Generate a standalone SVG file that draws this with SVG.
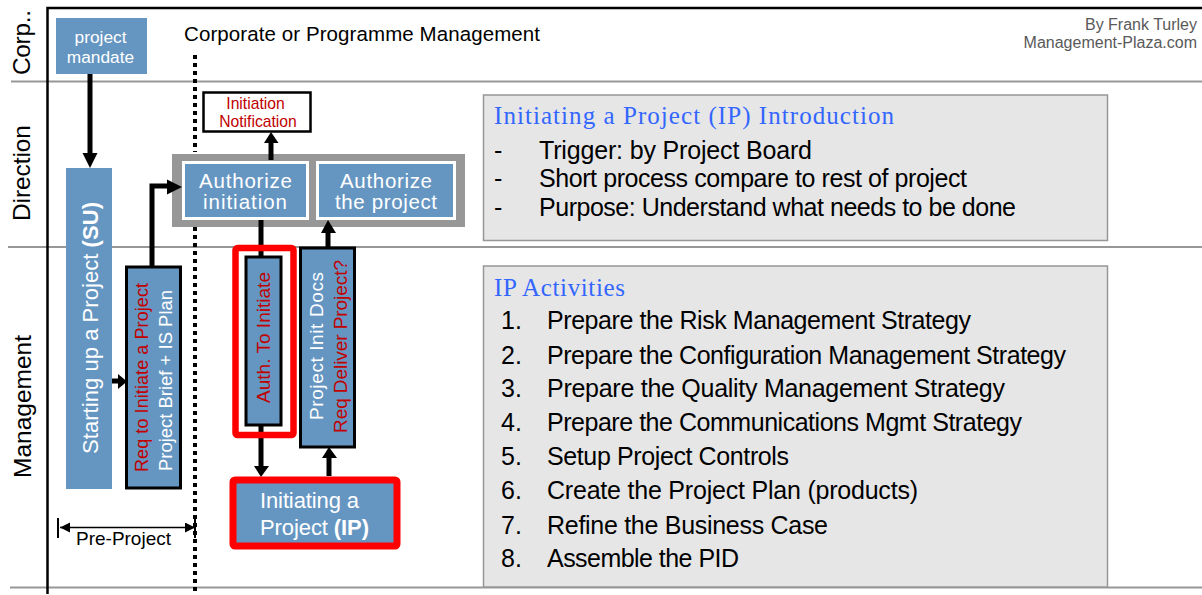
<svg xmlns="http://www.w3.org/2000/svg" width="1202" height="595" viewBox="0 0 1202 595">
<style>
text{font-family:"Liberation Sans",Arial,sans-serif}
.sw{fill:#000;font-size:24.500px}
.box{fill:#6596c2}
.w{fill:#fff}
.bl{stroke:#000;stroke-width:3}
.conn{fill:none;stroke:#000;stroke-width:5}
.pan{fill:#e6e6e6;stroke:#979797;stroke-width:1.500}
.h{fill:#3366ff;font-family:"Liberation Serif",serif;font-size:25px}
.t{font-size:25px;fill:#000}
.rd{fill:#c00000}
.ah{fill:#000}
</style>
<defs>
<marker id="dbl" markerUnits="userSpaceOnUse" markerWidth="12" markerHeight="12" refX="10" refY="5" orient="auto-start-reverse"><path d="M0 0L10 5L0 10z" fill="#000"/></marker>
</defs>
<rect width="1202" height="595" fill="#fff"/>
<g id="lanes">
<path d="M11 81.500H1202M8 247H1202M10 587.500H1202" stroke="#979797" stroke-width="2" fill="none"/>
<path d="M47.500 594V8H1202" stroke="#000" stroke-width="2.500" fill="none"/>
<path d="M195 55V152M195 227V594" stroke="#000" stroke-width="4" stroke-dasharray="4 4" fill="none"/>
<text class="sw" transform="translate(30 75) rotate(-90)" textLength="65">Corp..</text>
<text class="sw" transform="translate(30 221) rotate(-90)" textLength="96">Direction</text>
<text class="sw" transform="translate(31 478) rotate(-90)" textLength="143">Management</text>
<text x="184" y="41" font-size="20.500" textLength="356">Corporate or Programme Management</text>
<text x="1197" y="30" text-anchor="end" font-size="16" fill="#595959">By Frank Turley</text>
<text x="1197" y="48" text-anchor="end" font-size="16" fill="#595959">Management-Plaza.com</text>
</g>
<g id="node-authorize-group"><rect x="172" y="154" width="293" height="73" fill="#979797"/></g>
<g id="connectors">
<path class="conn" d="M90 74V155"/><path class="ah" d="M82.500 153H97.500L90 168z"/>
<path class="conn" d="M152 266V186H170"/><path class="ah" d="M167 179.500L182 187L167 194.500z"/>
<path class="conn" d="M112 381H119"/><path class="ah" d="M118 374L127 381.500L118 389z"/>
<path class="conn" d="M271 160V143"/><path class="ah" d="M264 143L271 132L278.500 143z"/>
<path class="conn" d="M261 220V258M261 425V466"/><path class="ah" d="M254 466H269L261 477z"/>
<path class="conn" d="M328 248V233"/><path class="ah" d="M321 233L328 220L336 233z"/>
<path class="conn" d="M329 476V458"/><path class="ah" d="M322 458L329 447L337 458z"/>
</g>
<g id="node-mandate"><rect class="box" x="56" y="18" width="91" height="56"/><text class="w" text-anchor="middle" x="100.500" y="43" font-size="17.300">project</text><text class="w" text-anchor="middle" x="100.500" y="63" font-size="17.300">mandate</text></g>
<g id="node-notification"><rect x="203.500" y="92.500" width="107" height="39" fill="#fff" stroke="#000" stroke-width="2.500"/><text class="rd" x="255.500" y="109" text-anchor="middle" font-size="15.700">Initiation</text><text class="rd" x="258" y="127" text-anchor="middle" font-size="15.700">Notification</text></g>
<g id="node-auth-init"><rect class="box" x="183.500" y="162.500" width="124" height="56" stroke="#fff" stroke-width="3"/><text class="w" x="199" y="188" font-size="20.500" textLength="93">Authorize</text><text class="w" x="203" y="209" font-size="20.500" textLength="84">initiation</text></g>
<g id="node-auth-project"><rect class="box" x="317.500" y="162.500" width="137" height="56" stroke="#fff" stroke-width="3"/><text class="w" x="340" y="188" font-size="20.500" textLength="92">Authorize</text><text class="w" x="335" y="209" font-size="20.500" textLength="102">the project</text></g>
<g id="node-su"><rect class="box" x="66" y="168" width="46" height="321"/><text class="w" transform="translate(98 454) rotate(-90)" font-size="22" textLength="252">Starting up a Project <tspan font-weight="bold">(SU)</tspan></text></g>
<g id="node-req"><rect class="box bl" x="126.500" y="267" width="54" height="221"/><text class="rd" transform="translate(148 472) rotate(-90)" font-size="18" textLength="189">Req to Initiate a Project</text><text class="w" transform="translate(172 471) rotate(-90)" font-size="18.400" textLength="181">Project Brief + IS Plan</text></g>
<g id="node-auth-to-initiate"><rect x="235.500" y="248" width="58" height="187" fill="none" stroke="#f00" stroke-width="6.500" rx="2"/><rect class="box bl" x="246" y="257" width="35" height="168"/><text class="rd" transform="translate(270 403) rotate(-90)" font-size="19" textLength="131">Auth. To Initiate</text></g>
<g id="node-pid"><rect class="box bl" x="300.500" y="248" width="54" height="199"/><text class="w" transform="translate(323 420) rotate(-90)" font-size="19" textLength="148">Project  Init  Docs</text><text class="rd" transform="translate(346.500 433) rotate(-90)" font-size="19" textLength="173">Req Deliver Project?</text></g>
<g id="node-ip"><rect class="box" x="233" y="480" width="164" height="66" stroke="#f00" stroke-width="7" rx="2"/><text class="w" x="260" y="508" font-size="22" textLength="99">Initiating a</text><text class="w" x="260" y="535" font-size="22" textLength="109">Project <tspan font-weight="bold">(IP)</tspan></text></g>
<g id="pre-project"><path d="M58 518V538M195 518V538" stroke="#000" stroke-width="2" fill="none"/><path d="M60 527.500H195" stroke="#000" stroke-width="1.500" marker-start="url(#dbl)" marker-end="url(#dbl)" fill="none"/><text x="76" y="545" font-size="19" textLength="95">Pre-Project</text></g>
<g id="panel-intro"><rect class="pan" x="483.500" y="95" width="624" height="145.500"/><text class="h" x="494" y="124" textLength="400">Initiating a Project (IP) Introduction</text><text class="t" x="494" y="159">-</text><text class="t" x="539" y="159" textLength="273">Trigger:  by Project Board</text><text class="t" x="494" y="187">-</text><text class="t" x="539" y="187" textLength="428">Short process compare to rest of project</text><text class="t" x="494" y="216">-</text><text class="t" x="539" y="216" textLength="477">Purpose: Understand what needs to be done</text></g>
<g id="panel-activities"><rect class="pan" x="483.500" y="266" width="624" height="321"/><text class="h" x="494" y="296" textLength="131">IP Activities</text>
<text class="t" x="501" y="329">1.</text><text class="t" x="547" y="329" textLength="424">Prepare the Risk Management Strategy</text>
<text class="t" x="501" y="364">2.</text><text class="t" x="547" y="364" textLength="519">Prepare the Configuration Management Strategy</text>
<text class="t" x="501" y="397">3.</text><text class="t" x="547" y="397" textLength="458">Prepare the Quality Management  Strategy</text>
<text class="t" x="501" y="431">4.</text><text class="t" x="547" y="431" textLength="475">Prepare the Communications Mgmt Strategy</text>
<text class="t" x="501" y="465">5.</text><text class="t" x="547" y="465" textLength="242">Setup Project Controls</text>
<text class="t" x="501" y="499">6.</text><text class="t" x="547" y="499" textLength="371">Create the Project Plan  (products)</text>
<text class="t" x="501" y="534">7.</text><text class="t" x="547" y="534" textLength="281">Refine the Business Case</text>
<text class="t" x="501" y="567">8.</text><text class="t" x="547" y="567" textLength="192">Assemble the PID</text></g>
</svg>
